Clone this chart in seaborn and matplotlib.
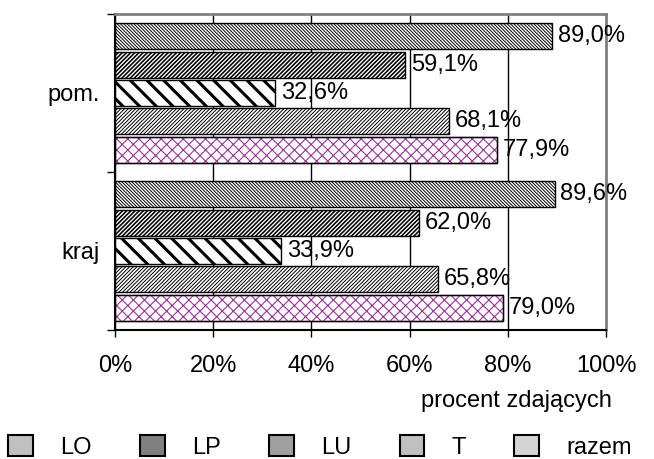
import matplotlib
matplotlib.use('Agg')
import matplotlib.pyplot as plt
import matplotlib.patches as mpatches
from matplotlib.ticker import PercentFormatter, FixedLocator
import pandas as pd
import seaborn as sns

# data
kategorie = ['pom.', 'kraj']
typy = ['LO', 'LP', 'LU', 'T', 'razem']
pom = [89.0, 59.1, 32.6, 68.1, 77.9]
kraj = [89.6, 62.0, 33.9, 65.8, 79.0]
x_ticks = [0, 20, 40, 60, 80, 100]

rows = []
for t, a, b in zip(typy, pom, kraj):
    rows.append({'kategoria': 'pom.', 'typ': t, 'wartosc': a})
    rows.append({'kategoria': 'kraj', 'typ': t, 'wartosc': b})
df = pd.DataFrame(rows)

sns.set_style('white')
plt.rcParams['font.family'] = ['Liberation Sans', 'DejaVu Sans']
plt.rcParams['text.color'] = 'black'
plt.rcParams['axes.labelcolor'] = 'black'
plt.rcParams['xtick.color'] = 'black'
plt.rcParams['ytick.color'] = 'black'
fs = 17

fig = plt.figure(figsize=(6.54, 4.59), dpi=100)
ax = fig.add_axes([115/654, 1-330/459, 491/654, 316/459])

sns.barplot(data=df, y='kategoria', x='wartosc', hue='typ', order=kategorie,
            hue_order=typy, orient='h', width=0.9, gap=0.085, errorbar=None,
            palette=['white']*5, legend=False, ax=ax)

# hatch styles per series: (hatch, hatch colour, hatch linewidth)
styl = {
    'LO': ('\\' * 10, 'black', 0.7),
    'LP': ('/' * 8, 'black', 1.15),
    'LU': ('\\\\', 'black', 2.2),
    'T': ('/' * 9, 'black', 0.7),
    'razem': ('xxx', '#993399', 0.8),
}

for cont, t in zip(ax.containers, typy):
    h, c, lw = styl[t]
    for bar in cont:
        bar.set_facecolor('white')
        bar.set_edgecolor(c)
        bar.set_hatch(h)
        bar.set_linewidth(1.0)
        if hasattr(bar, 'set_hatch_linewidth'):
            bar.set_hatch_linewidth(lw)
        # black outline on top of coloured hatch
        if c != 'black':
            ax.add_patch(mpatches.Rectangle(bar.get_xy(), bar.get_width(), bar.get_height(),
                                            fill=False, edgecolor='black', linewidth=1.0, zorder=bar.get_zorder() + 0.1))
    vals = [v.get_width() for v in cont]
    labels = [f'{v:.1f}%'.replace('.', ',') for v in vals]
    ax.bar_label(cont, labels=labels, padding=4, fontsize=fs, color='black')

ax.set_xlim(0, 100)
ax.set_ylim(1.5, -0.5)
ax.xaxis.set_major_locator(FixedLocator(x_ticks))
ax.xaxis.set_major_formatter(PercentFormatter(xmax=100, decimals=0))
ax.tick_params(axis='x', labelsize=fs, direction='out', length=5, width=1, color='black', pad=13, bottom=True)
ax.tick_params(axis='y', which='major', labelsize=fs, length=0, pad=11)
ax.yaxis.set_minor_locator(FixedLocator([-0.5, 0.5, 1.5]))
ax.tick_params(axis='y', which='minor', direction='out', length=6, width=1, color='black', left=True)

ax.set_axisbelow(True)
ax.xaxis.grid(True, color='black', linewidth=1)
ax.yaxis.grid(False)

for s in ['left', 'bottom']:
    ax.spines[s].set_color('black')
    ax.spines[s].set_linewidth(1.5)
for s in ['top', 'right']:
    ax.spines[s].set_color('#808080')
    ax.spines[s].set_linewidth(2)

ax.set_ylabel('')
ax.set_xlabel('procent zdających', fontsize=fs, ha='right')
ax.xaxis.set_label_coords(1.012, -0.19)
ax.xaxis.label.set_va('top')

leg_kolory = ['#c0c0c0', '#808080', '#a0a0a0', '#c0c0c0', '#d4d4d4']
handles = [mpatches.Patch(facecolor=k, edgecolor='black', linewidth=1.5) for k in leg_kolory]
fig.legend(handles, typy, loc='center left', bbox_to_anchor=(8/654, 1-447/459),
           ncol=5, frameon=False, fontsize=fs, handlelength=1.05, handleheight=1.0,
           handletextpad=1.15, columnspacing=2.05, borderpad=0, borderaxespad=0)

fig.savefig('out.png', dpi=100)
